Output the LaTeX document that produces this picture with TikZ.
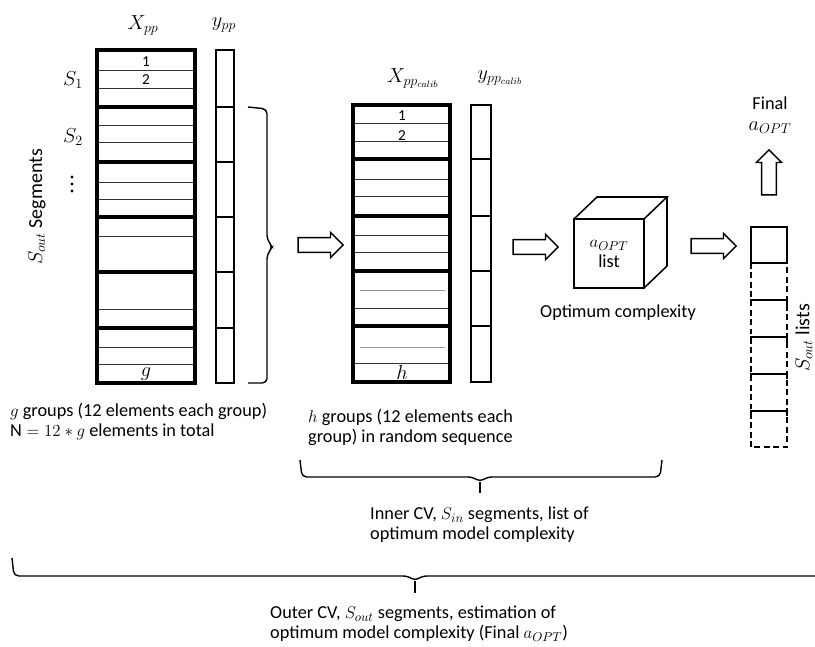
\documentclass[tikz,border=0pt]{standalone}
\usepackage{amsmath}
\usepackage{amssymb}
\usepackage{fontspec}
\setmainfont{Carlito}
\usetikzlibrary{shapes.arrows}

\begin{document}
\begin{tikzpicture}[x=0.03cm, y=-0.03cm,
    txt/.style={font=\fontsize{15.6}{17}\selectfont, align=left, inner sep=0pt},
    lbl/.style={font=\fontsize{17}{19}\selectfont, inner sep=0pt},
    digit/.style={font=\fontsize{13}{15}\selectfont, inner sep=0pt},
    frame/.style={line width=3.4pt},
    sep/.style={line width=3.4pt},
    row/.style={line width=0.8pt, black!80},
    lightrow/.style={line width=0.8pt, black!40},
    col/.style={line width=2.5pt},
    hollow/.style={single arrow, draw, line width=1.2pt, inner sep=0.2cm,
        minimum height=1.35cm, single arrow head extend=0.16cm},
    brc/.style={line width=1.2pt, rounded corners=4pt}]

    \useasboundingbox (0,0) rectangle (815,646);

    % full data set
    \draw [frame] (97,50) rectangle (195,383);
    \draw [sep] (97,107) -- (195,107) (97,162) -- (195,162) (97,217) -- (195,217)
                (97,272) -- (195,272) (97,328) -- (195,328);
    \draw [row] (99,70) -- (193,70) (99,88) -- (193,88)
                (99,125) -- (193,125) (99,142) -- (193,142)
                (99,182) -- (193,182) (99,199) -- (193,199)
                (99,236) -- (193,236) (99,309) -- (193,309)
                (99,347) -- (193,347) (99,364) -- (193,364);
    \draw [col] (216,50) rectangle (234,383);
    \draw [col] (216,107) -- (234,107) (216,162) -- (234,162) (216,217) -- (234,217)
                (216,272) -- (234,272) (216,328) -- (234,328);

    \node [lbl] (Xpp)  at (143,25)  {$X_{pp}$};
    \node [lbl] (ypp)  at (224,25)  {$y_{pp}$};
    \node [lbl] (S1)   at (73,80)   {$S_1$};
    \node [lbl] (S2)   at (73,137)  {$S_2$};
    \fill (72,177) circle (1.7) (72,184) circle (1.7) (72,191) circle (1.7);
    \node [lbl, rotate=90] (Sseg) at (37,207) {$S_{out}$ Segments};
    \node [digit] (R1) at (146,62)  {1};
    \node [digit] (R2) at (146,80)  {2};
    \node [lbl]   (Rg) at (146,374) {$g$};

    % calibration set
    \draw [frame] (353,105) rectangle (450,382);
    \draw [sep] (353,159) -- (450,159) (353,216) -- (450,216)
                (353,271) -- (450,271) (353,326) -- (450,326);
    \draw [row] (355,123) -- (448,123) (355,141) -- (448,141)
                (355,179) -- (448,179) (355,196) -- (448,196)
                (355,235) -- (448,235) (355,252) -- (448,252)
                (355,308) -- (448,308) (355,363) -- (448,363);
    \draw [lightrow] (360,290) -- (445,290) (360,347) -- (445,347);
    \draw [col] (471,105) rectangle (491,382);
    \draw [col] (471,159) -- (491,159) (471,216) -- (491,216)
                (471,271) -- (491,271) (471,326) -- (491,326);

    \node [lbl] (Xcal) at (413,78) {$X_{pp_{calib}}$};
    \node [lbl] (ycal) at (500,78) {$y_{pp_{calib}}$};
    \node [digit] (C1) at (402,116) {1};
    \node [digit] (C2) at (402,136) {2};
    \node [lbl]   (Ch) at (402,372) {$h$};

    % flow
    \node [hollow] (A1) at (317,245) {};
    \node [hollow] (A2) at (532,247) {};
    \node [hollow] (A3) at (710,246) {};
    \node [hollow, rotate=90] (A4) at (769,176) {};

    \node [draw, line width=1.3pt, outer sep=0pt, minimum width=2.1cm, minimum height=2.07cm,
           txt, align=center] (cube) at (609,253.5) {$a_{OPT}$\\list};
    \draw [line width=1.3pt] (cube.north west) -- ++(23,-22) -- ++(70,0) -- (cube.north east)
                             (cube.north east) ++(23,-22) -- ++(0,69) -- (cube.south east);
    \node [txt] (optc) at (618,313) {Optimum complexity};

    % outer list
    \draw [line width=1.2pt] (751,227) rectangle (787,263);
    \draw [line width=1.2pt, dash pattern=on 5pt off 3pt] (751,263) -- (751,447) -- (787,447) -- (787,263);
    \draw [line width=1.2pt] (751,305) -- (751,300) -- (787,300) -- (787,305)
                             (751,342) -- (751,337) -- (787,337) -- (787,342)
                             (751,379) -- (751,374) -- (787,374) -- (787,379)
                             (751,416) -- (751,411) -- (787,411) -- (787,416);
    \node [lbl, rotate=90] (Slist) at (804,338) {$S_{out}$ lists};
    \node [txt] (fin)  at (770,103) {Final};
    \node [lbl] (aopt) at (770,128) {$a_{OPT}$};

    % braces and notes
    \draw [brc] (248,107) -- (267,109) -- (267,240) -- (273,247) -- (267,254) -- (267,383) -- (248,383);
    \draw [brc] (300,460) -- (302,477) -- (473,477) -- (480,482) -- (487,477) -- (660,477) -- (662,460);
    \draw [line width=1.2pt] (480,482) -- (480,493);
    \draw [brc] (12,558) -- (14,576) -- (408,576) -- (415,581) -- (422,576) -- (830,576);
    \draw [line width=1.2pt] (415,581) -- (415,593);

    \node [txt, anchor=west] (gtxt)  at (10,421)  {$g$ groups (12 elements each group)\\$\mathrm{N}=12*g$ elements in total};
    \node [txt, anchor=west] (htxt)  at (308,427) {$h$ groups (12 elements each\\group) in random sequence};
    \node [txt, anchor=west] (inner) at (370,525) {Inner CV, $S_{in}$ segments, list of\\optimum model complexity};
    \node [txt, anchor=west] (outer) at (270,624) {Outer CV, $S_{out}$ segments, estimation of\\optimum model complexity (Final $a_{OPT}$)};

\end{tikzpicture}
\end{document}
